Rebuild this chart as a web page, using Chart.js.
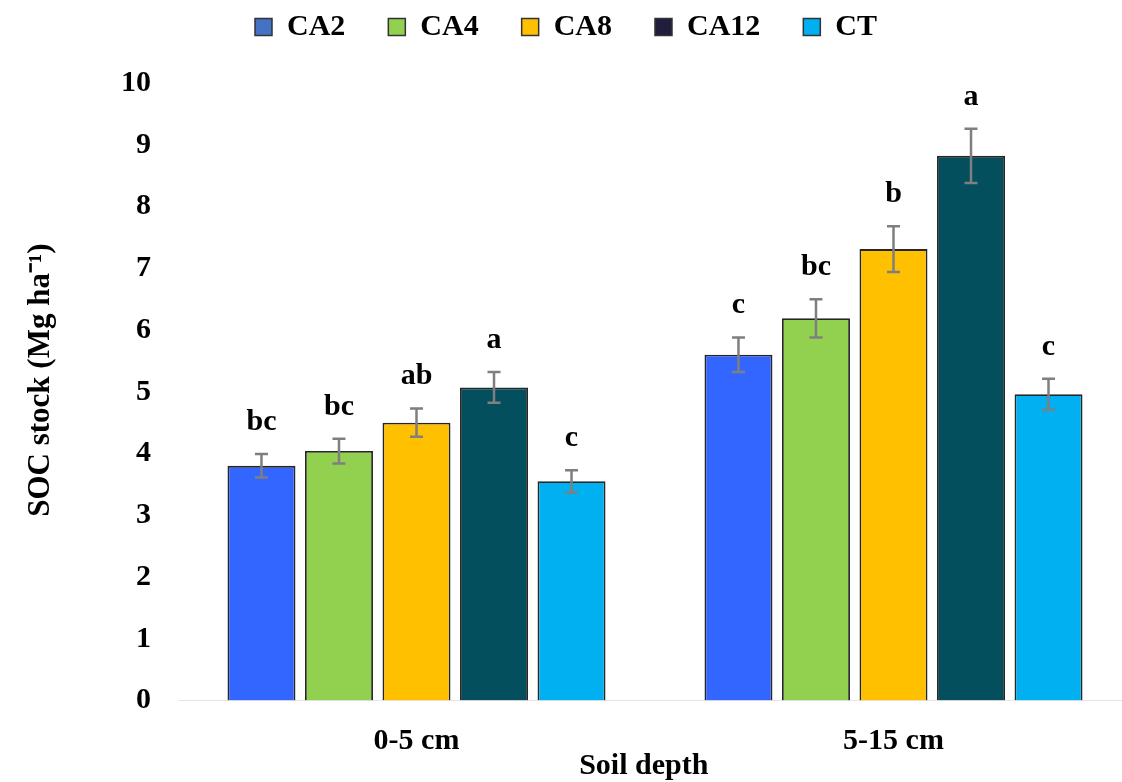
<!DOCTYPE html>
<html><head><meta charset="utf-8">
<script src="https://cdn.jsdelivr.net/npm/chart.js@4"></script>
<style>html,body{margin:0;padding:0;overflow:hidden;background:#fff}#wrap{width:1134px;height:782px}</style>
</head><body><div id="wrap"><canvas id="c" width="1134" height="782"></canvas></div>
<script>
// ---- data ----
const categories = ['0-5 cm', '5-15 cm'];
const seriesNames = ['CA2', 'CA4', 'CA8', 'CA12', 'CT'];
const CA2  = [3.80, 5.60];
const CA4  = [4.04, 6.19];
const CA8  = [4.50, 7.31];
const CA12 = [5.07, 8.82];
const CT   = [3.55, 4.96];
const errCA2  = [0.19, 0.28];
const errCA4  = [0.20, 0.31];
const errCA8  = [0.23, 0.37];
const errCA12 = [0.25, 0.44];
const errCT   = [0.18, 0.25];
const letCA2  = ['bc', 'c'];
const letCA4  = ['bc', 'bc'];
const letCA8  = ['ab', 'b'];
const letCA12 = ['a', 'a'];
const letCT   = ['c', 'c'];
const yTickValues = [0,1,2,3,4,5,6,7,8,9,10];

// ---- styles ----
const barColors = ['#3366FF', '#92D050', '#FFC000', '#034F5E', '#00B0F0'];
const legendColors = ['#4472C4', '#92D050', '#FFC000', '#201E3C', '#00B0F0'];
const FONT = '"Liberation Serif", "Times New Roman", serif';

const values = [CA2, CA4, CA8, CA12, CT];
const errors = [errCA2, errCA4, errCA8, errCA12, errCT];
const letters = [letCA2, letCA4, letCA8, letCA12, letCT];

const datasets = seriesNames.map((name, i) => ({
  label: name,
  data: values[i],
  errors: errors[i],
  letters: letters[i],
  backgroundColor: barColors[i],
  borderColor: '#262626',
  borderWidth: 1.8,
  categoryPercentage: 0.8125,
  barPercentage: 0.877
}));

const legendSpacePlugin = {
  id: 'legendSpace',
  beforeUpdate(chart) {
    const lg = chart.legend;
    if (lg && !lg._patched) {
      const f = lg.fit;
      lg.fit = function () { f.call(this); this.height += 31; };
      lg._patched = true;
    }
  }
};

const errorBarPlugin = {
  id: 'errbars',
  afterDatasetsDraw(chart) {
    const ctx = chart.ctx;
    const ys = chart.scales.y;
    chart.data.datasets.forEach((ds, di) => {
      const meta = chart.getDatasetMeta(di);
      meta.data.forEach((bar, i) => {
        const v = ds.data[i], e = ds.errors[i];
        const yt = ys.getPixelForValue(v + e);
        const yb = ys.getPixelForValue(v - e);
        ctx.save();
        ctx.strokeStyle = '#7f7f7f';
        ctx.lineWidth = 2.5;
        ctx.beginPath();
        ctx.moveTo(bar.x, yt); ctx.lineTo(bar.x, yb);
        ctx.moveTo(bar.x - 6.5, yt); ctx.lineTo(bar.x + 6.5, yt);
        ctx.moveTo(bar.x - 6.5, yb); ctx.lineTo(bar.x + 6.5, yb);
        ctx.stroke();
        ctx.fillStyle = '#000';
        ctx.font = 'bold 30px ' + FONT;
        ctx.textAlign = 'center';
        ctx.textBaseline = 'alphabetic';
        ctx.fillText(ds.letters[i], bar.x, yt - 24);
        ctx.restore();
      });
    });
  }
};

new Chart(document.getElementById('c'), {
  type: 'bar',
  data: { labels: categories, datasets },
  plugins: [legendSpacePlugin, errorBarPlugin],
  options: {
    responsive: false,
    animation: false,
    layout: { padding: { top: -31, right: 2, left: 0, bottom: 0 } },
    plugins: {
      tooltip: { enabled: false },
      legend: {
        position: 'top',
        labels: {
          boxWidth: 17, boxHeight: 17, padding: 43,
          color: '#000',
          font: { family: FONT, size: 30, weight: 'bold' },
          generateLabels: (chart) => chart.data.datasets.map((ds, i) => ({
            text: ds.label, fillStyle: legendColors[i], strokeStyle: '#333',
            lineWidth: 1.5, hidden: false, datasetIndex: i, fontColor: '#000'
          }))
        }
      }
    },
    scales: {
      x: {
        grid: { display: false, drawTicks: false },
        border: { display: true, color: '#e6e6e6', width: 1 },
        ticks: { color: '#000', padding: 23, font: { family: FONT, size: 30, weight: 'bold' } },
        title: { display: true, text: 'Soil depth   ', color: '#000', padding: { top: 0, bottom: 0 },
                 font: { family: FONT, size: 30, weight: 'bold', lineHeight: 1.05 } },
        afterFit(scale) { scale.height = 81.5; }
      },
      y: {
        min: 0, max: 10,
        grid: { display: false, drawTicks: false },
        border: { display: false },
        afterBuildTicks(scale) { scale.ticks = yTickValues.map(v => ({ value: v })); },
        ticks: { color: '#000', padding: 27, font: { family: FONT, size: 30, weight: 'bold' } },
        title: { display: true, text: '   SOC stock (Mg ha\u207B\u00B9)', color: '#000', padding: { top: 22, bottom: 0 },
                 font: { family: FONT, size: 31, weight: 'bold', lineHeight: 1.2 } },
        afterFit(scale) { scale.width = 178; }
      }
    }
  }
});
</script>
</body></html>
